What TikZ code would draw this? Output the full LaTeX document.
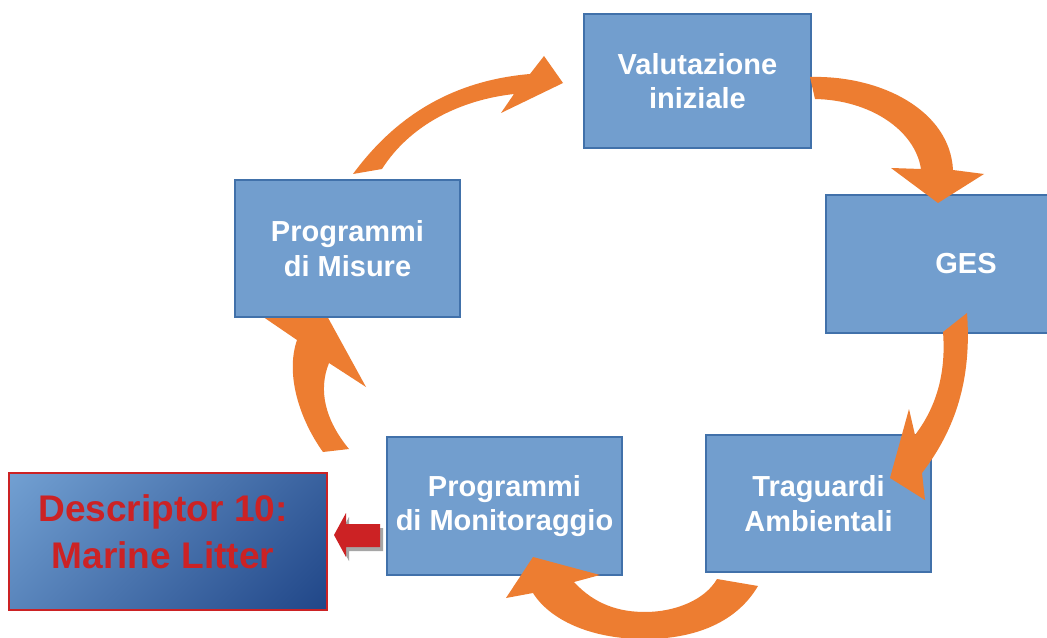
\documentclass[tikz,border=0pt]{standalone}
\usepackage{fontspec}
\setmainfont{Liberation Sans}
\definecolor{boxfill}{RGB}{114,158,206}
\definecolor{boxline}{RGB}{65,113,170}
\definecolor{arrorange}{RGB}{237,125,49}
\definecolor{litred}{RGB}{204,34,36}
\definecolor{gradlight}{RGB}{114,160,210}
\definecolor{graddark}{RGB}{32,70,136}
\tikzset{
  stagebox/.style={draw=boxline, line width=0.9pt, fill=boxfill, inner sep=0pt, align=center,
    text=white, font=\bfseries\fontsize{21.75}{26}\selectfont},
  flow/.style={fill=arrorange},
}
\begin{document}
\begin{tikzpicture}[x=0.75pt, y={(0pt,-0.75pt)}]
\clip (0,0) rectangle (1047,638);
\fill[white] (0,0) rectangle (1047,638);
% arrow beneath Programmi di Misure
\fill[flow] (323,452) .. controls (300,420) and (285,375) .. (297,340) -- (256,312) -- (321,305) -- (366,387) -- (329,363) .. controls (318,390) and (325,420) .. (349,449) -- cycle;
% boxes
\node[stagebox, minimum width=227*0.75pt, minimum height=134*0.75pt] (val) at (697.5,81) {Valutazione\\iniziale};
\node[stagebox, minimum width=280*0.75pt, minimum height=138*0.75pt] (ges) at (966,264) {GES};
\node[stagebox, minimum width=225*0.75pt, minimum height=137*0.75pt] (tra) at (818.5,503.5) {Traguardi\\Ambientali};
\node[stagebox, minimum width=235*0.75pt, minimum height=138*0.75pt] (mon) at (504.5,506) {Programmi\\di Monitoraggio};
\node[stagebox, minimum width=225*0.75pt, minimum height=137*0.75pt] (mis) at (347.5,248.5) {Programmi\\di Misure};
% descriptor box: diagonal gradient, light top-left to dark bottom-right
\begin{scope}
  \clip (9,473) rectangle (327,610);
  \shade[top color=gradlight, bottom color=graddark, shading angle=45] (7,380.5) rectangle (329,702.5);
\end{scope}
\node[draw=litred, line width=1.5pt, minimum width=318*0.75pt, minimum height=137*0.75pt] (desc) at (168,541.5) {};
\node[text=litred, font=\bfseries\fontsize{27.8}{35}\selectfont, align=center] (desctext) at (163,531.5) {Descriptor 10:\\Marine Litter};
% red block arrow with shadow
\fill[gray!70] (337,539) -- (349,517) -- (349,528) -- (383,528) -- (383,551) -- (349,551) -- (349,561) -- cycle;
\fill[litred] (334,535) -- (346,513) -- (346,524) -- (380,524) -- (380,547) -- (346,547) -- (346,557) -- cycle;
% orange curved arrows
\fill[flow] (353,174) .. controls (400,110) and (460,80) .. (530,74) -- (544,56) -- (563,83) -- (501,113) -- (514,94) .. controls (460,100) and (410,125) .. (382,169) -- cycle;
\fill[flow] (810,77) .. controls (880,75) and (950,110) .. (953,170) -- (984,174) -- (938,203) -- (891,168) -- (921,169) .. controls (915,130) and (870,100) .. (815,99) -- cycle;
\fill[flow] (967,313) .. controls (972,380) and (955,430) .. (922,473) -- (925,500) -- (890,478) -- (909,409) -- (915,435) .. controls (938,405) and (946,370) .. (943,332) -- cycle;
\fill[flow] (758,586) .. controls (735,625) and (690,640) .. (640,639) .. controls (590,638) and (550,620) .. (533,593) -- (506,598) -- (533,557) -- (600,575) -- (574,582) .. controls (595,605) and (620,612) .. (645,612) .. controls (675,612) and (705,600) .. (717,579) -- cycle;
\end{tikzpicture}
\end{document}
